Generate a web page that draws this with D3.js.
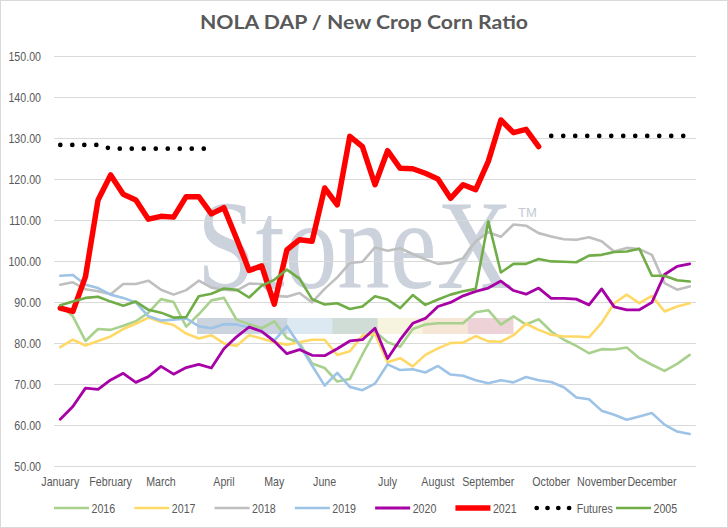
<!DOCTYPE html>
<html>
<head>
<meta charset="utf-8">
<script src="https://cdn.jsdelivr.net/npm/d3@7"></script>
<style>
  body { margin: 0; background: #fff; }
  svg { display: block; }
  .tick-label { font-family: "Liberation Sans", Arial, sans-serif; font-size: 13px; fill: #595959; }
</style>
</head>
<body>
<div id="chart"></div>
<script>
const months = ['January', 'February', 'March', 'April', 'May', 'June', 'July', 'August', 'September', 'October', 'November', 'December']
// week index where each month label sits
const monthWeek = [0, 4, 8, 13, 17, 21, 26, 30, 34, 39, 43, 47]
const weekCount = 51
const yTicks = [50, 60, 70, 80, 90, 100, 110, 120, 130, 140, 150]

const s2016 = [89.2, 86.5, 80.5, 83.4, 83.2, 84.2, 85.3, 87.4, 90.7, 90.0, 84.0, 87.0, 90.4, 91.0, 85.7, 84.6, 83.6, 85.3, 81.2, 80.0, 75.0, 73.9, 70.6, 71.2, 77.2, 82.8, 80.2, 79.1, 83.4, 84.5, 84.8, 84.8, 84.8, 87.5, 88.0, 84.5, 86.5, 84.5, 85.8, 82.8, 80.8, 79.3, 77.5, 78.5, 78.4, 78.9, 76.3, 74.7, 73.2, 74.9, 77.1]
const s2017 = [79.0, 80.8, 79.4, 80.5, 81.6, 83.4, 84.7, 86.2, 85.1, 84.4, 82.3, 81.1, 81.9, 79.9, 79.3, 81.9, 81.1, 80.2, 79.6, 80.2, 80.8, 80.8, 77.1, 78.0, 81.8, 82.2, 75.3, 76.3, 74.3, 77.1, 78.7, 80.0, 80.1, 81.7, 80.4, 80.3, 81.9, 84.7, 83.2, 82.0, 81.6, 81.6, 81.4, 84.9, 89.7, 91.8, 89.7, 91.5, 87.7, 88.9, 89.7]
const s2018 = [94.2, 94.8, 93.1, 92.6, 91.9, 94.4, 94.4, 95.2, 93.0, 91.8, 92.9, 95.2, 93.5, 93.0, 92.8, 94.5, 94.4, 91.5, 91.3, 92.2, 89.9, 93.2, 96.0, 99.5, 99.8, 103.3, 102.5, 103.1, 101.7, 100.4, 99.3, 99.6, 100.7, 104.8, 107.0, 105.9, 108.9, 108.6, 106.8, 106.0, 105.3, 105.2, 105.8, 104.8, 102.3, 103.2, 102.9, 101.5, 94.6, 93.0, 93.8]
const s2019 = [96.4, 96.6, 94.2, 93.4, 91.8, 91.0, 89.9, 86.5, 85.5, 85.7, 86.0, 84.1, 83.6, 84.6, 84.5, 83.8, 83.0, 80.6, 84.1, 79.5, 74.5, 69.6, 72.7, 69.3, 68.5, 70.1, 74.8, 73.4, 73.6, 72.8, 74.4, 72.3, 72.0, 70.9, 70.2, 70.9, 70.4, 71.7, 70.9, 70.5, 69.2, 66.7, 66.3, 63.5, 62.5, 61.3, 62.1, 62.9, 60.1, 58.4, 57.8]
const s2020 = [61.4, 64.5, 69.0, 68.7, 71.0, 72.6, 70.4, 71.8, 74.3, 72.4, 74.0, 74.8, 73.9, 78.6, 81.5, 83.9, 82.8, 80.4, 77.4, 78.4, 77.0, 76.9, 78.6, 80.5, 80.8, 83.6, 76.2, 80.8, 84.8, 86.0, 88.9, 89.9, 91.5, 92.6, 93.4, 95.1, 92.8, 91.9, 93.4, 90.9, 90.9, 90.7, 89.3, 93.2, 88.8, 88.1, 88.1, 89.9, 96.7, 98.7, 99.3]
const s2021 = [88.5, 87.7, 96.2, 114.9, 121.0, 116.3, 114.9, 110.2, 110.9, 110.7, 115.7, 115.7, 111.5, 113.0, 105.5, 97.7, 98.8, 89.5, 102.7, 105.2, 104.8, 117.8, 113.7, 130.4, 127.9, 118.6, 126.9, 122.6, 122.5, 121.4, 120.0, 115.3, 118.6, 117.4, 124.3, 134.4, 131.3, 132.1, 127.9, null, null, null, null, null, null, null, null, null, null, null, null]
const sFutures = [128.3, 128.3, 128.3, 128.3, 127.4, 127.4, 127.4, 127.4, 127.4, 127.4, 127.4, 127.4, 127.4, null, null, null, null, null, null, null, null, null, null, null, null, null, null, null, null, null, null, null, null, null, null, null, null, null, null, 130.5, 130.5, 130.5, 130.5, 130.5, 130.5, 130.5, 130.5, 130.5, 130.5, 130.5, 130.5]
const s2005 = [89.2, 90.1, 91.0, 91.3, 90.1, 89.1, 90.1, 88.1, 87.4, 86.2, 86.3, 91.4, 92.0, 93.3, 93.0, 91.1, 94.0, 95.4, 97.9, 95.7, 90.7, 89.4, 89.7, 88.3, 88.9, 91.4, 90.6, 88.5, 91.7, 89.3, 90.6, 91.8, 92.6, 93.2, 109.7, 97.2, 99.3, 99.3, 100.5, 99.9, 99.8, 99.7, 101.3, 101.5, 102.2, 102.3, 103.0, 96.4, 96.4, 95.3, 95.0]

const seriesNames = ['2016', '2017', '2018', '2019', '2020', '2021', 'Futures', '2005']
const seriesColors = ['#A9D18E', '#FFD966', '#BFBFBF', '#9DC3E6', '#A600A6', '#FF0000', '#000000', '#70AD47']

const series = [
  { name: '2016', values: s2016, width: 2.6 },
  { name: '2017', values: s2017, width: 2.6 },
  { name: '2018', values: s2018, width: 2.6 },
  { name: '2019', values: s2019, width: 2.6 },
  { name: '2020', values: s2020, width: 2.8 },
  { name: '2021', values: s2021, width: 5.5 },
  { name: 'Futures', values: sFutures, width: 4.7, dots: true },
  { name: '2005', values: s2005, width: 2.6 }
]
series.forEach((s, i) => (s.color = seriesColors[i]))

const width = 728
const height = 528
// the labels in the original are a narrow face, squeeze a regular one
const squeeze = 0.82

const svg = d3.select('#chart').append('svg')
  .attr('width', width)
  .attr('height', height)

svg.append('rect')
  .attr('x', 0.5).attr('y', 0.5)
  .attr('width', width - 1).attr('height', height - 1)
  .attr('fill', '#fff')
  .attr('stroke', '#D9D9D9')

const x = d3.scalePoint()
  .domain(d3.range(weekCount))
  .range([54, 696])
  .padding(0.5)

const y = d3.scaleLinear()
  .domain([50, 150])
  .range([466, 56])

// title
svg.append('text')
  .attr('x', 364)
  .attr('y', 29)
  .attr('text-anchor', 'middle')
  .attr('textLength', 328)
  .attr('lengthAdjust', 'spacingAndGlyphs')
  .style('font-family', 'Lato, "Open Sans", sans-serif')
  .style('font-size', '19px')
  .style('font-weight', 700)
  .style('fill', '#595959')
  .text('NOLA DAP / New Crop Corn Ratio')

// watermark behind the plot
const wm = svg.append('g').attr('class', 'watermark')
wm.append('text')
  .attr('transform', 'translate(197,288) scale(0.835,1)')
  .style('font-family', '"Liberation Serif", "DejaVu Serif", serif')
  .style('font-size', '126px')
  .style('fill', '#CBD2DC')
  .text('StoneX')
wm.append('text')
  .attr('x', 518)
  .attr('y', 217)
  .style('font-family', '"Liberation Sans", sans-serif')
  .style('font-size', '13px')
  .style('fill', '#C3CAD3')
  .text('TM')

const bandColors = ['#CBD3DF', '#CBD3DF', '#DCE8F2', '#D0DDD6', '#F6F3DE', '#F6E6D5', '#EDD3D8']
const bandX = d3.scaleBand().domain(d3.range(bandColors.length)).range([197, 513])
wm.selectAll('rect')
  .data(bandColors)
  .join('rect')
  .attr('x', (d, i) => bandX(i))
  .attr('y', 318)
  .attr('width', bandX.bandwidth() + 0.5)
  .attr('height', 16)
  .attr('fill', d => d)

// gridlines + y labels
svg.append('g')
  .selectAll('line')
  .data(yTicks)
  .join('line')
  .attr('x1', 54).attr('x2', 696)
  .attr('y1', d => Math.round(y(d)) + 0.5)
  .attr('y2', d => Math.round(y(d)) + 0.5)
  .attr('stroke', '#D9D9D9')
  .attr('stroke-width', 1)

svg.append('g')
  .selectAll('text')
  .data(yTicks)
  .join('text')
  .attr('class', 'tick-label')
  .attr('transform', d => `translate(41,${y(d) + 4.5}) scale(${squeeze},1)`)
  .attr('text-anchor', 'end')
  .text(d3.format('.2f'))

// month labels
svg.append('g')
  .selectAll('text')
  .data(months)
  .join('text')
  .attr('class', 'tick-label')
  .attr('transform', (d, i) => `translate(${x(monthWeek[i])},486) scale(${squeeze},1)`)
  .attr('text-anchor', 'middle')
  .text(d => d)

const line = d3.line()
  .defined(d => d != null)
  .x((d, i) => x(i))
  .y(d => y(d))

svg.append('g')
  .selectAll('path')
  .data(series)
  .join('path')
  .attr('d', d => line(d.values))
  .attr('fill', 'none')
  .attr('stroke', d => d.color)
  .attr('stroke-width', d => d.width)
  .attr('stroke-linejoin', 'round')
  .attr('stroke-linecap', 'round')
  .attr('stroke-dasharray', d => (d.dots ? '0 12' : null))

// legend
const legendX = d3.scalePoint().domain(seriesNames).range([53, 615])
const legend = svg.append('g')
  .selectAll('g')
  .data(series)
  .join('g')
  .attr('transform', d => `translate(${legendX(d.name)},508)`)

legend.append('line')
  .attr('x1', d => (d.dots ? 2 : 1))
  .attr('x2', 36)
  .attr('stroke', d => d.color)
  .attr('stroke-width', d => d.width)
  .attr('stroke-linecap', d => (d.dots ? 'round' : 'butt'))
  .attr('stroke-dasharray', d => (d.dots ? '0 10.8' : null))

legend.append('text')
  .attr('class', 'tick-label')
  .attr('transform', d => `translate(${d.dots ? 10 : 38.5},4.5) scale(${squeeze},1)`)
  .attr('x', d => (d.dots ? 39 : 0))
  .text(d => d.name)
</script>
</body>
</html>
